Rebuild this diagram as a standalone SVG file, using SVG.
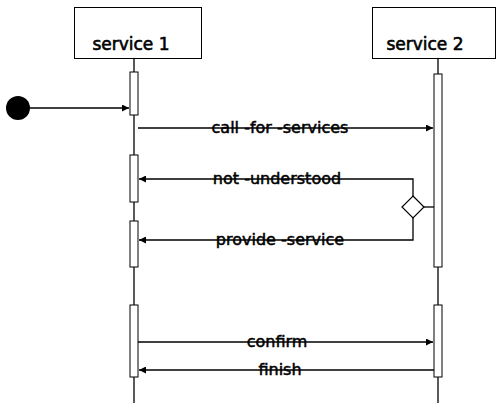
<svg xmlns="http://www.w3.org/2000/svg" width="497" height="403" viewBox="0 0 497 403">
<style>
.box{fill:#fff;stroke:#000;stroke-width:1}
.bar{fill:#fff;stroke:#000;stroke-width:1}
.ln{stroke:#000;stroke-width:1.3;fill:none}
.t{font-family:"DejaVu Sans",Verdana,sans-serif;font-size:16px;fill:#000;stroke:#000;stroke-width:0.5;text-anchor:middle}
.h{font-family:"DejaVu Sans",Verdana,sans-serif;font-size:17px;fill:#000;stroke:#000;stroke-width:0.6;text-anchor:middle}
</style>
<defs>
<marker id="ah" viewBox="0 0 10 10" refX="10" refY="5" markerWidth="9" markerHeight="7" markerUnits="userSpaceOnUse" orient="auto">
<path d="M0,0 L10,5 L0,10 z" fill="#000"/>
</marker>
</defs>
<rect width="497" height="403" fill="#fff"/>
<g id="service1">
<rect class="box" x="74.5" y="7.5" width="127" height="51"/>
<text class="h" x="131" y="50">service 1</text>
<line class="ln" x1="134" y1="58" x2="134" y2="403"/>
<rect class="bar" x="130" y="72" width="8" height="43"/>
<rect class="bar" x="130" y="155" width="8" height="47"/>
<rect class="bar" x="130" y="221" width="8" height="46"/>
<rect class="bar" x="130" y="305" width="8" height="72"/>
</g>
<g id="service2">
<rect class="box" x="372.5" y="7.5" width="123" height="51"/>
<text class="h" x="425" y="50">service 2</text>
<line class="ln" x1="438" y1="58" x2="438" y2="403"/>
<rect class="bar" x="434" y="74" width="8" height="193"/>
<rect class="bar" x="434" y="305" width="8" height="72"/>
</g>
<g id="start">
<circle cx="18" cy="108" r="12" fill="#000"/>
</g>
<g id="decision">
<path d="M413,196 L424,207 L413,218 L402,207 Z" fill="#fff" stroke="#000" stroke-width="1.2"/>
</g>
<g id="connectors">
<line class="ln" x1="30" y1="108" x2="129" y2="108" marker-end="url(#ah)"/>
<line class="ln" x1="138" y1="128" x2="433" y2="128" marker-end="url(#ah)"/>
<text class="t" x="280" y="133">call -for -services</text>
<path class="ln" d="M413,196 L413,179 L139,179" marker-end="url(#ah)"/>
<text class="t" x="277" y="184">not -understood</text>
<line class="ln" x1="424" y1="207" x2="434" y2="207"/>
<path class="ln" d="M413,218 L413,240 L139,240" marker-end="url(#ah)"/>
<text class="t" x="280" y="245">provide -service</text>
<line class="ln" x1="138" y1="342" x2="433" y2="342" marker-end="url(#ah)"/>
<text class="t" x="277" y="347">confirm</text>
<line class="ln" x1="434" y1="370" x2="139" y2="370" marker-end="url(#ah)"/>
<text class="t" x="280" y="375">finish</text>
</g>
</svg>
